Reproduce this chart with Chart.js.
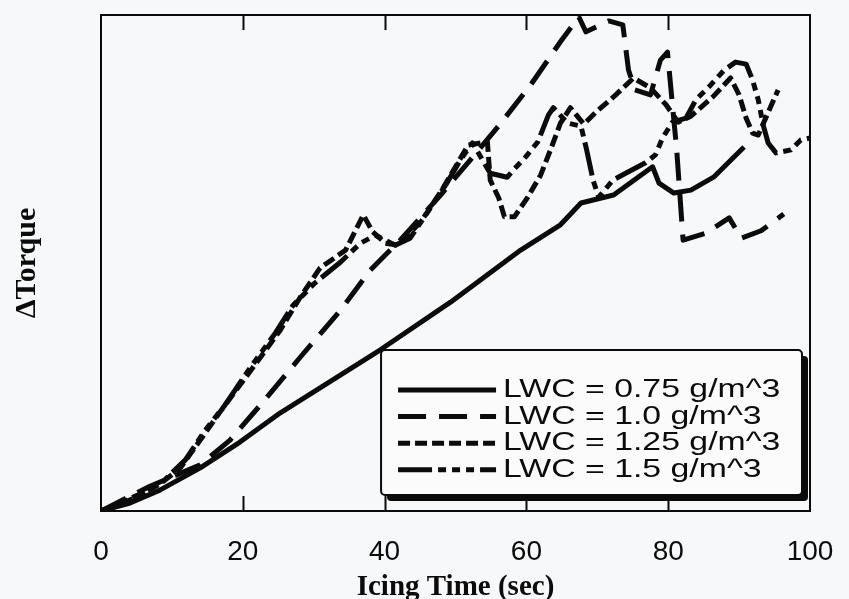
<!DOCTYPE html>
<html>
<head>
<meta charset="utf-8">
<title>Torque vs icing time</title>
<script src="https://cdn.jsdelivr.net/npm/chart.js@4.4.1/dist/chart.umd.min.js"></script>
<style>
  html, body { margin: 0; padding: 0; background: #f7f8f9; }
  #wrap { width: 849px; height: 599px; }
</style>
</head>
<body>
<div id="wrap"><canvas id="torqueChart" width="849" height="599"></canvas></div>
<script>
// icing time (sec) and torque rise (arbitrary units) for each liquid water content
const lwc075Time = [0, 4.1, 8.3, 14.0, 19.6, 25.3, 30.9, 39.4, 49.3, 59.2, 64.8, 67.7, 72.3, 77.8, 78.7, 80.8, 83.2, 86.4, 90.7];
const lwc075Torque = [0, 1.6, 4.2, 8.7, 13.9, 19.8, 24.8, 32.5, 42.1, 52.6, 57.7, 62.1, 63.7, 69.4, 66.1, 64.1, 64.7, 67.3, 73.4];

const lwc100Time = [0, 6.9, 14.0, 18.2, 22.5, 28.1, 33.8, 38.0, 42.2, 47.9, 52.1, 56.4, 60.6, 64.8, 67.4, 68.4, 71.6, 73.6, 74.4, 75.3, 77.5, 78.9, 79.9, 80.4, 81.2, 82.1, 85.3, 88.6, 90.3, 93.1, 96.3];
const lwc100Torque = [0, 5.0, 9.3, 14.3, 21.4, 31.0, 40.5, 48.6, 54.6, 63.7, 70.8, 78.2, 85.9, 94.6, 99.6, 96.6, 98.8, 98.0, 88.9, 84.9, 83.9, 90.9, 92.5, 84.9, 72.8, 54.6, 56.0, 59.1, 55.0, 56.5, 59.9];

const lwc125Time = [0, 2.7, 5.5, 8.3, 11.2, 14.0, 16.8, 19.6, 22.5, 25.3, 28.1, 30.9, 34.5, 37.0, 38.3, 40.1, 41.9, 45.1, 47.9, 50.0, 51.8, 54.5, 54.9, 56.1, 56.9, 58.3, 60.2, 62.0, 63.4, 64.8, 66.2, 68.1, 69.8, 72.6, 75.1, 77.5, 79.7, 81.4, 83.2, 86.3, 88.8, 90.0, 91.0, 91.9, 92.7, 95.5];
const lwc125Torque = [0, 1.6, 3.4, 5.4, 8.7, 14.3, 20.0, 25.4, 31.0, 36.5, 43.1, 49.0, 52.6, 59.7, 56.3, 54.0, 53.6, 58.3, 64.3, 69.4, 73.8, 74.4, 66.7, 63.1, 59.3, 59.3, 63.3, 67.7, 72.8, 78.2, 81.3, 78.0, 80.4, 83.9, 87.3, 85.3, 81.9, 78.4, 79.6, 83.5, 87.3, 83.9, 79.2, 76.2, 75.8, 84.9];

const lwc150Time = [0, 3.4, 6.2, 9.0, 11.9, 14.7, 17.5, 21.0, 24.6, 27.1, 30.2, 33.8, 36.6, 38.7, 41.5, 43.6, 45.8, 48.6, 50.7, 52.4, 54.9, 57.3, 58.2, 59.9, 61.6, 63.1, 63.8, 65.8, 67.7, 68.5, 69.4, 70.2, 72.2, 74.0, 76.8, 78.2, 79.2, 80.6, 82.5, 83.9, 86.0, 87.9, 89.5, 91.0, 91.9, 92.7, 93.4, 94.1, 95.2, 97.3, 98.7, 100];
const lwc150Torque = [0, 1.8, 3.6, 6.3, 10.3, 16.3, 21.4, 28.8, 35.9, 41.5, 46.0, 50.2, 54.0, 55.6, 53.6, 55.0, 59.7, 65.7, 70.8, 74.2, 68.1, 67.3, 68.8, 71.4, 74.4, 79.8, 81.3, 78.2, 77.6, 72.8, 66.7, 63.3, 66.7, 68.1, 70.2, 71.8, 75.2, 78.4, 79.2, 82.9, 85.9, 88.9, 90.5, 90.1, 86.9, 82.9, 77.8, 74.2, 72.2, 72.8, 74.8, 75.2];

const seriesLabels = ['LWC = 0.75 g/m^3', 'LWC = 1.0 g/m^3', 'LWC = 1.25 g/m^3', 'LWC = 1.5 g/m^3'];
const timeTicks = [0, 20, 40, 60, 80, 100];

const ink = '#0b0b0b';

function points(xs, ys) {
  return xs.map((x, i) => ({ x: x, y: ys[i] }));
}

function lineSet(label, xs, ys, dash) {
  return {
    label: label,
    data: points(xs, ys),
    borderColor: ink,
    borderWidth: 5,
    borderDash: dash,
    borderCapStyle: 'butt',
    borderJoinStyle: 'round',
    pointRadius: 0,
    tension: 0,
    fill: false
  };
}

// box around the plot plus the short inward ticks top and bottom
const frame = {
  id: 'frame',
  afterDatasetsDraw(chart) {
    const { ctx, chartArea: a, scales } = chart;
    ctx.save();
    ctx.strokeStyle = ink;
    ctx.lineWidth = 2;
    ctx.strokeRect(a.left, a.top, a.right - a.left, a.bottom - a.top);
    ctx.beginPath();
    timeTicks.slice(1, -1).forEach(t => {
      const px = Math.round(scales.x.getPixelForValue(t)) + 0.5;
      ctx.moveTo(px, a.top);
      ctx.lineTo(px, a.top + 15);
      ctx.moveTo(px, a.bottom);
      ctx.lineTo(px, a.bottom - 15);
    });
    ctx.stroke();
    ctx.restore();
  }
};

// legend box with drop shadow in the lower right corner of the plot
const shadowLegend = {
  id: 'shadowLegend',
  afterDraw(chart) {
    const { ctx, chartArea: a, scales } = chart;
    const left = scales.x.getPixelForValue(39.5);
    const right = a.right - 8;
    const top = a.top + 335;
    const bottom = a.bottom - 16;
    const shift = 6;
    ctx.save();
    ctx.fillStyle = ink;
    ctx.beginPath();
    ctx.roundRect(left + shift, top + shift, right - left, bottom - top, 4);
    ctx.fill();
    ctx.fillStyle = '#fbfbfc';
    ctx.strokeStyle = ink;
    ctx.lineWidth = 2;
    ctx.beginPath();
    ctx.roundRect(left, top, right - left, bottom - top, 4);
    ctx.fill();
    ctx.stroke();

    ctx.font = '26px "Liberation Sans", Arial, sans-serif';
    ctx.textBaseline = 'middle';
    chart.data.datasets.forEach((ds, i) => {
      const y = top + 40 + i * 26.6;
      ctx.strokeStyle = ds.borderColor;
      ctx.lineWidth = ds.borderWidth;
      ctx.setLineDash(ds.borderDash || []);
      ctx.beginPath();
      ctx.moveTo(left + 17, y);
      ctx.lineTo(left + 115, y);
      ctx.stroke();
      ctx.setLineDash([]);
      ctx.save();
      ctx.translate(left + 122, y);
      ctx.scale(1.3, 1);
      ctx.fillStyle = ink;
      ctx.fillText(ds.label, 0, 0);
      ctx.restore();
    });
    ctx.restore();
  }
};

new Chart(document.getElementById('torqueChart'), {
  type: 'line',
  data: {
    datasets: [
      lineSet(seriesLabels[0], lwc075Time, lwc075Torque, []),
      lineSet(seriesLabels[1], lwc100Time, lwc100Torque, [28, 13]),
      lineSet(seriesLabels[2], lwc125Time, lwc125Torque, [12, 5]),
      lineSet(seriesLabels[3], lwc150Time, lwc150Torque, [34, 6, 8, 6, 8, 6, 8, 6])
    ]
  },
  options: {
    responsive: false,
    devicePixelRatio: 1,
    animation: false,
    layout: { padding: { top: 15, right: 39, left: 0, bottom: 0 } },
    plugins: {
      legend: { display: false },
      tooltip: { enabled: false }
    },
    scales: {
      x: {
        type: 'linear',
        min: 0,
        max: 100,
        afterBuildTicks: s => { s.ticks = timeTicks.map(v => ({ value: v })); },
        afterFit: s => { s.height = 88; s.paddingLeft = 0; s.paddingRight = 0; },
        grid: { display: false },
        border: { display: false },
        ticks: {
          color: ink,
          padding: 16,
          maxRotation: 0,
          font: { family: '"Liberation Sans", Arial, sans-serif', size: 28 }
        },
        title: {
          display: true,
          text: 'Icing Time (sec)',
          color: ink,
          padding: { top: 0, bottom: -6 },
          font: { family: '"Liberation Serif", "Times New Roman", serif', size: 29, weight: 'bold' }
        }
      },
      y: {
        min: 0,
        max: 100,
        afterFit: s => { s.width = 101; s.paddingTop = 0; s.paddingBottom = 0; },
        grid: { display: false },
        border: { display: false },
        ticks: { display: false },
        title: {
          display: true,
          text: 'ΔTorque',
          color: ink,
          padding: { top: 9, bottom: 0 },
          font: { family: '"Liberation Serif", "Times New Roman", serif', size: 30, weight: 'bold' }
        }
      }
    }
  },
  plugins: [frame, shadowLegend]
});
</script>
</body>
</html>
